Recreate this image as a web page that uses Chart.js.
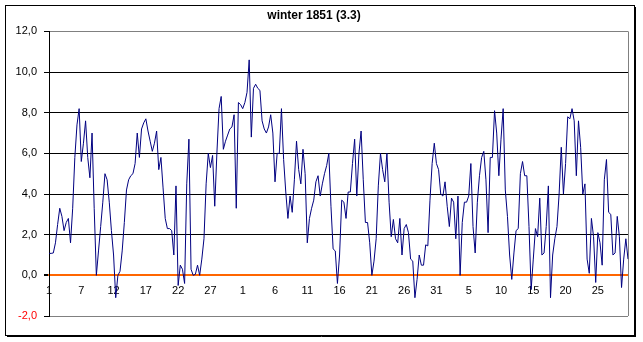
<!DOCTYPE html>
<html>
<head>
<meta charset="utf-8">
<script src="https://cdn.jsdelivr.net/npm/chart.js@4"></script>
<style>
  html, body { margin: 0; padding: 0; background: #fff; }
</style>
</head>
<body>
<canvas id="c" width="643" height="342"></canvas>
<script>
// temperature readings, Dec 1850 - Feb 1851
const temps = [
  1.08, 1.08, 1.1, 1.6, 2.5, 3.3, 2.9, 2.2, 2.6, 2.8,
  1.6, 3.3, 5.8, 7.4, 8.2, 5.6, 6.5, 7.6, 5.8, 4.8,
  7.0, 3.3, 0.0, 1.2, 2.4, 3.6, 5.0, 4.7, 3.6, 2.2,
  1.0, -1.1, 0.0, 0.2, 1.2, 2.6, 4.2, 4.7, 4.9, 5.0,
  5.5, 7.0, 5.8, 7.2, 7.5, 7.7, 7.1, 6.6, 6.1, 6.5,
  7.1, 5.2, 5.8, 4.3, 2.8, 2.3, 2.3, 2.2, 1.0, 4.4,
  -0.5, 0.5, 0.3, -0.4, 4.5, 6.7, 0.3, 0.0, 0.05, 0.5,
  0.0, 0.8, 1.8, 4.5, 6.0, 5.3, 5.9, 3.4, 6.0, 8.2,
  8.8, 6.2, 6.6, 6.9, 7.2, 7.3, 7.9, 3.3, 8.5, 8.4,
  8.2, 8.5, 9.0, 10.6, 6.8, 9.2, 9.4, 9.2, 9.1, 7.6,
  7.2, 7.0, 7.3, 7.9, 7.0, 4.6, 6.0, 6.0, 8.2, 5.7,
  4.1, 2.8, 3.9, 3.1, 4.7, 6.6, 5.2, 4.5, 6.2, 5.0,
  1.6, 2.8, 3.3, 3.7, 4.6, 4.9, 3.9, 4.5, 5.0, 5.4,
  6.0, 3.4, 1.3, 1.2, -0.4, 1.0, 3.7, 3.6, 2.8, 4.1,
  4.1, 5.5, 6.7, 3.9, 6.0, 7.1, 4.7, 2.6, 2.6, 1.6,
  0.0, 0.7, 1.8, 4.4, 6.0, 5.2, 4.6, 6.0, 3.6, 1.9,
  2.75, 1.8, 1.6, 2.8, 1.0, 2.3, 2.5, 2.1, 0.8, 0.7,
  -1.1, -0.2, 1.0, 0.5, 0.5, 1.5, 1.45, 3.7, 5.5, 6.5,
  5.5, 5.2, 4.0, 3.9, 4.6, 3.4, 2.4, 3.8, 3.6, 1.8,
  3.9, 0.0, 2.6, 3.6, 3.6, 3.9, 5.5, 2.4, 1.1, 3.6,
  4.9, 5.8, 6.1, 4.7, 2.1, 5.8, 5.8, 8.1, 7.0, 4.9,
  6.7, 8.2, 4.2, 2.9, 1.0, -0.2, 1.1, 2.2, 2.3, 5.0,
  5.6, 4.9, 4.9, 2.4, -0.7, 0.8, 2.3, 1.9, 3.8, 1.0,
  1.1, 2.4, 4.4, -1.1, 1.0, 1.8, 2.4, 4.0, 6.3, 4.0,
  5.5, 7.8, 7.7, 8.2, 7.6, 4.9, 7.6, 6.3, 4.0, 4.5,
  0.8, 0.1, 2.8, 1.9, -0.35, 2.1, 1.6, 0.5, 4.7, 5.7,
  3.1, 3.0, 1.0, 1.1, 2.9, 1.9, -0.6, 0.8, 1.8, 0.8
];

// day labels, one every 15 readings
const xTickLabels = ['1', '7', '12', '17', '22', '27', '1', '6', '11', '16', '21', '26', '31', '5', '10', '15', '20', '25'];
const labelEvery = 15;

const yMin = -2;
const yMax = 12;
const yStep = 2;

const categories = temps.map((v, i) => i % labelEvery === 0 ? (xTickLabels[i / labelEvery] || '') : '');

const font = { family: 'Liberation Sans, Arial, sans-serif', size: 11 };

const frame = {
  id: 'frame',
  beforeDatasetsDraw(chart) {
    const { ctx, chartArea: a } = chart;
    ctx.save();
    ctx.strokeStyle = '#808080';
    ctx.lineWidth = 1;
    ctx.beginPath();
    ctx.moveTo(Math.round(a.right) + 0.5, a.top);
    ctx.lineTo(Math.round(a.right) + 0.5, a.bottom);
    ctx.stroke();
    ctx.restore();
  },
  afterDraw(chart) {
    const ctx = chart.ctx;
    ctx.save();
    ctx.strokeStyle = '#000';
    ctx.lineWidth = 1;
    ctx.strokeRect(5.5, 5.5, 629, 330);
    ctx.beginPath();
    ctx.moveTo(635.5, 7);
    ctx.lineTo(635.5, 337);
    ctx.moveTo(7, 336.5);
    ctx.lineTo(636, 336.5);
    ctx.stroke();
    ctx.restore();
  }
};

const ctx = document.getElementById('c');
const myChart = new Chart(ctx, {
  type: 'line',
  data: {
    labels: categories,
    datasets: [{
      label: 'winter 1851',
      data: temps,
      borderColor: '#000080',
      borderWidth: 1,
      pointRadius: 0,
      tension: 0,
      fill: false
    }]
  },
  plugins: [frame],
  options: {
    responsive: false,
    animation: false,
    layout: { padding: { top: 8, right: 15, bottom: 26, left: 0 } },
    plugins: {
      legend: { display: false },
      tooltip: { enabled: false },
      title: {
        display: true,
        text: 'winter 1851 (3.3)',
        color: '#000',
        font: { family: 'Liberation Sans, Arial, sans-serif', size: 12, weight: 'bold' },
        padding: { top: 0, bottom: 9 }
      }
    },
    scales: {
      x: {
        position: { y: 0 },
        grid: { display: true, drawOnChartArea: false, drawTicks: false },
        border: { color: '#FF6600', width: 2 },
        ticks: { autoSkip: false, maxRotation: 0, minRotation: 0, padding: 9, color: '#000', font: font },
        afterFit(scale) { scale.height = 0; }
      },
      y: {
        min: yMin,
        max: yMax,
        ticks: {
          stepSize: yStep,
          padding: 7,
          font: font,
          color: c => c.tick.value < 0 ? '#FF0000' : '#000',
          callback: v => v.toFixed(1).replace('.', ',')
        },
        grid: {
          color: c => (c.tick.value === yMax || c.tick.value === yMin) ? '#808080' : (c.tick.value === 0 ? '#FF6600' : '#000'),
          lineWidth: c => c.tick.value === 0 ? 2 : 1,
          tickLength: 5,
          tickColor: '#000'
        },
        border: { color: '#000', width: 1 },
        afterFit(scale) { scale.width = 49; }
      }
    }
  }
});
</script>
</body>
</html>
